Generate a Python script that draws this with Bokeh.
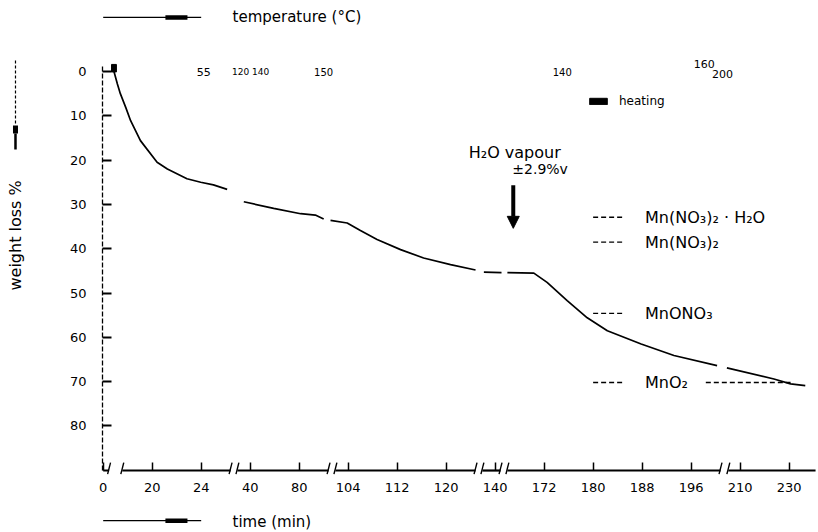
import math
from bokeh.plotting import figure
from bokeh.models import (Range1d, FixedTicker, Label, Arrow, NormalHead,
                          Legend, LegendItem, ColumnDataSource)
from bokeh.core.properties import value
from bokeh.embed import file_html
from bokeh.resources import INLINE

FONT = "DejaVu Sans"
nan = float("nan")

# ---- data -------------------------------------------------------------
# broken time axis: each tick label sits one axis unit further on
time_ticks = ["0", "20", "24", "40", "80", "104", "112", "120", "140",
              "172", "180", "188", "196", "210", "230"]
tick_pos = list(range(len(time_ticks)))
weight_ticks = [0, 10, 20, 30, 40, 50, 60, 70, 80]

# TG trace: x in units of the broken time axis, y = weight loss %; NaN = gap
curve_x = [0.22, 0.29, 0.35, 0.46, 0.56, 0.76, 1.10, 1.31, 1.71, 1.99, 2.25, 2.53, nan,
           2.87, 3.48, 4.03, 4.33, 4.50, nan,
           4.64, 4.98, 5.25, 5.59, 6.07, 6.54, 7.09, 7.60, nan,
           7.77, 8.13, nan,
           8.25, 8.79, 9.06, 9.47, 9.88, 10.29, 10.98, 11.65, 12.53, nan,
           12.73, 13.69, 14.03, 14.33]
curve_y = [0.0, 2.8, 5.0, 8.1, 11.1, 15.6, 20.5, 22.0, 24.2, 25.0, 25.6, 26.6, nan,
           29.4, 30.9, 32.1, 32.4, 33.3, nan,
           33.6, 34.2, 35.9, 37.9, 40.2, 42.1, 43.6, 44.8, nan,
           45.3, 45.4, nan,
           45.4, 45.5, 47.6, 51.7, 55.6, 58.5, 61.5, 64.1, 66.4, nan,
           66.9, 69.4, 70.5, 70.9]

# heating marks (black bars)
heat_left = [0.17]
heat_right = [0.27]
heat_top = [-1.6]
heat_bottom = [0.1]

# temperatures written along the top (°C)
temp_labels = ["55", "120 140", "150", "140", "160", "200"]
temp_x = [2.05, 3.01, 4.50, 9.37, 12.27, 12.64]
temp_y = [0.2, 0.2, 0.2, 0.2, -1.7, 0.6]
temp_size = ["11px", "9px", "10px", "10px", "11px", "11px"]

# theoretical weight-loss levels of the decomposition products
comp_names = ["Mn(NO₃)₂ · H₂O", "Mn(NO₃)₂", "MnONO₃", "MnO₂"]
comp_levels = [32.9, 38.5, 54.6, 70.2]

# pieces of the broken time axis
axis_start = [0.0, 0.39, 2.74, 4.74, 7.74, 8.25, 12.76]
axis_end = [0.12, 2.60, 4.60, 7.60, 8.11, 12.60, 14.54]

# ---- figure -----------------------------------------------------------
X_AXIS_AT = 90.07     # weight-loss value where the time axis is drawn
Y_AXIS_AT = -0.014    # time-axis unit where the weight-loss axis is drawn
p = figure(width=818, height=532, output_backend="svg", toolbar_location=None,
           x_range=Range1d(-2.096, 14.6), y_range=Range1d(104.06, -16.03),
           min_border=0)
p.outline_line_color = None
p.xgrid.visible = False
p.ygrid.visible = False

# x axis (ticks / labels from bokeh, line drawn in pieces)
xa = p.xaxis[0]
xa.fixed_location = X_AXIS_AT
xa.ticker = FixedTicker(ticks=tick_pos)
xa.major_label_overrides = {i: t for i, t in zip(tick_pos, time_ticks)}
xa.axis_line_color = None
xa.major_tick_in = 8
xa.major_tick_out = 0
xa.major_tick_line_width = 1.5
xa.minor_tick_line_color = None
xa.major_label_standoff = 12
xa.major_label_text_font = FONT
xa.major_label_text_font_size = "13px"
xa.major_label_text_color = "black"

ya = p.yaxis[0]
ya.fixed_location = Y_AXIS_AT
ya.ticker = FixedTicker(ticks=weight_ticks)
ya.bounds = (-1.2, X_AXIS_AT)
ya.axis_line_dash = "5 2"
ya.axis_line_width = 1.3
ya.major_tick_in = 9
ya.major_tick_out = 0
ya.major_tick_line_width = 2
ya.minor_tick_line_color = None
ya.major_label_standoff = 16
ya.major_label_text_font = FONT
ya.major_label_text_font_size = "13px"
ya.major_label_text_color = "black"

p.segment(x0=axis_start, y0=[X_AXIS_AT] * len(axis_start), x1=axis_end,
          y1=[X_AXIS_AT] * len(axis_end), line_color="black", line_width=2.2)
# break strokes at the ends of the axis pieces
bx0, bx1 = [], []
for s, e in zip(axis_start[1:], axis_end[:-1]):
    bx0 += [e - 0.03, s - 0.03]
    bx1 += [e + 0.03, s + 0.03]
p.segment(x0=bx0, y0=[X_AXIS_AT + 0.8] * len(bx0), x1=bx1,
          y1=[X_AXIS_AT - 1.8] * len(bx1), line_color="black", line_width=1.4)

# curve
p.line(curve_x, curve_y, line_color="black", line_width=1.7)

heat = p.quad(left=heat_left, right=heat_right, top=heat_top, bottom=heat_bottom,
              fill_color="black", line_color="black")

# temperatures
tsrc = ColumnDataSource(dict(x=temp_x, y=temp_y, t=temp_labels, s=temp_size))
p.text(x="x", y="y", text="t", source=tsrc, text_font=value(FONT),
       text_font_size="s", text_align="center", text_baseline="middle",
       text_color="black")

# product levels
p.segment(x0=[10.0] * 4, y0=comp_levels, x1=[10.6] * 4, y1=comp_levels,
          line_color="black", line_width=1.3, line_dash="5 3")
p.segment(x0=[12.3], y0=[comp_levels[3]], x1=[14.03], y1=[comp_levels[3]],
          line_color="black", line_width=1.3, line_dash="5 3")
csrc = ColumnDataSource(dict(x=[11.06] * 4, y=comp_levels, t=comp_names))
p.text(x="x", y="y", text="t", source=csrc, text_font=value(FONT),
       text_font_size="16px", text_align="left", text_baseline="middle",
       text_color="black")

# H2O vapour annotation
p.add_layout(Label(x=7.46, y=18.3, text="H₂O vapour", text_font=FONT,
                   text_font_size="16px", text_baseline="middle", text_color="black"))
p.add_layout(Label(x=8.35, y=22.1, text="±2.9%v", text_font=FONT,
                   text_font_size="14px", text_baseline="middle", text_color="black"))
p.add_layout(Arrow(x_start=8.37, y_start=25.7, x_end=8.37, y_end=35.4, line_width=4,
                   end=NormalHead(size=12, fill_color="black", line_color="black")))

# heating legend
leg = Legend(items=[LegendItem(label="heating", renderers=[heat])],
             location=(587, 424), padding=0, margin=0, spacing=0,
             glyph_width=22, glyph_height=8, label_standoff=10,
             label_text_font=FONT, label_text_font_size="12px",
             label_text_color="black",
             border_line_color=None, background_fill_alpha=0)
p.add_layout(leg, "center")

# axis titles with their arrows
def arrow_line(x0, y0, x1, y1, w, dash="solid"):
    p.add_layout(Arrow(x_start=x0, y_start=y0, x_end=x1, y_end=y1, end=None,
                       line_width=w, line_color="black", line_dash=dash))

for yy in (-12.2, 101.4):
    arrow_line(0.0, yy, 2.0, yy, 1.3)
    arrow_line(1.27, yy, 1.72, yy, 4.5)
p.add_layout(Label(x=2.64, y=-12.2, text="temperature (°C)", text_font=FONT,
                   text_font_size="15px", text_baseline="middle", text_color="black"))
p.add_layout(Label(x=2.64, y=101.8, text="time (min)", text_font=FONT,
                   text_font_size="15px", text_baseline="middle", text_color="black"))

arrow_line(-1.79, -2.5, -1.79, 12.2, 1.2, "3 2")
arrow_line(-1.79, 12.2, -1.79, 14.0, 5)
arrow_line(-1.79, 14.0, -1.79, 17.6, 2.5)
p.add_layout(Label(x=-1.79, y=37.0, text="weight loss %", text_font=FONT,
                   text_font_size="16px", angle=math.pi / 2, text_align="center",
                   text_baseline="middle", text_color="black"))

open("out.html", "w").write(file_html(p, INLINE))
